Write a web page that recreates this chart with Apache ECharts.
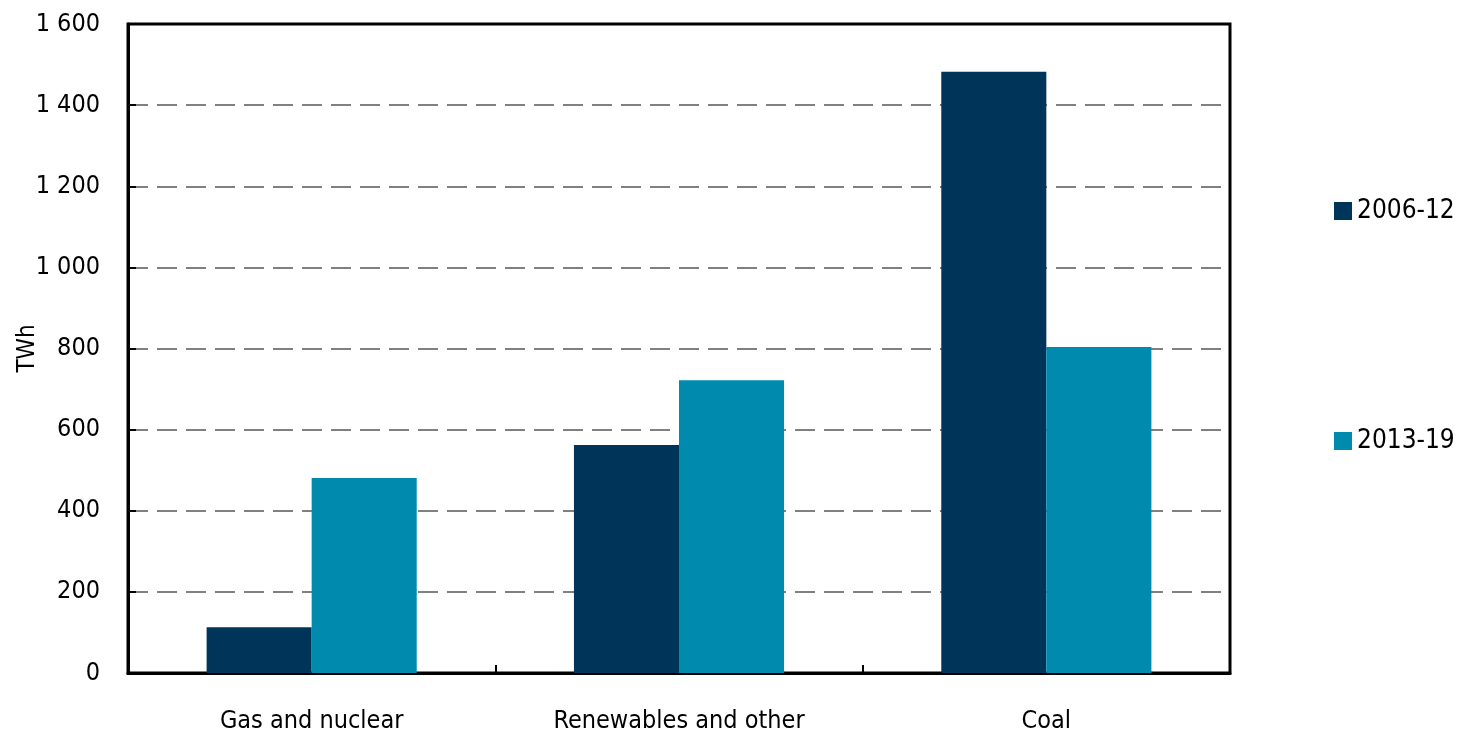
<!DOCTYPE html>
<html><head><meta charset="utf-8">
<script src="https://cdn.jsdelivr.net/npm/echarts@6/dist/echarts.min.js"></script>
<style>html,body{margin:0;padding:0;background:#fff}#c{width:1470px;height:737px}</style>
</head><body><div id="c"></div>
<script>
const categories = ['Gas and nuclear', 'Renewables and other', 'Coal'];
const seriesNames = ['2006-12', '2013-19'];
const values2006 = [113, 562, 1482];
const values2013 = [481, 722, 804];
const yTicks = [0, 200, 400, 600, 800, 1000, 1200, 1400, 1600];
const FONT = "'DejaVu Sans Condensed', 'Liberation Sans Narrow', sans-serif";
const fmt = v => String(v).replace(/\B(?=(\d{3})+(?!\d))/g, ' ');
const chart = echarts.init(document.getElementById('c'));
chart.setOption({
  animation: false,
  textStyle: { fontFamily: FONT },
  grid: { left: 128, right: 240, top: 24, bottom: 64, containLabel: false, outerBoundsMode: 'none',
          show: true, borderColor: '#000', borderWidth: 3, backgroundColor: 'transparent' },
  legend: {
    orient: 'vertical', left: 1329, top: 193, itemGap: 204, itemWidth: 18, itemHeight: 18,
    icon: 'rect',
    textStyle: { fontFamily: FONT, fontSize: 26, color: '#000' },
    data: seriesNames
  },
  xAxis: {
    type: 'category', data: categories,
    axisLine: { lineStyle: { color: '#000', width: 3 } },
    axisTick: { show: true, inside: true, length: 8, lineStyle: { color: '#000', width: 2 } },
    axisLabel: { fontFamily: FONT, fontSize: 25, color: '#000', margin: 36 }
  },
  yAxis: {
    type: 'value', min: yTicks[0], max: yTicks[yTicks.length - 1], interval: 200,
    name: 'TWh', nameLocation: 'middle', nameGap: 88, nameRotate: 90, nameMoveOverlap: false,
    nameTextStyle: { fontFamily: FONT, fontSize: 24, color: '#000' },
    axisLine: { show: true, lineStyle: { color: '#000', width: 3 } },
    axisTick: { show: true, inside: true, length: 8, lineStyle: { color: '#000', width: 2 } },
    axisLabel: { fontFamily: FONT, fontSize: 25, color: '#000', margin: 28, formatter: fmt },
    splitLine: { show: true, showMinLine: false, showMaxLine: false, lineStyle: { color: '#808080', width: 2, type: [20, 9] } }
  },
  series: [
    { name: seriesNames[0], type: 'bar', data: values2006, barWidth: '28.6%', barGap: '0%', itemStyle: { color: '#00355A' } },
    { name: seriesNames[1], type: 'bar', data: values2013, barWidth: '28.6%', barGap: '0%', itemStyle: { color: '#008AAE' } }
  ]
});
</script></body></html>
